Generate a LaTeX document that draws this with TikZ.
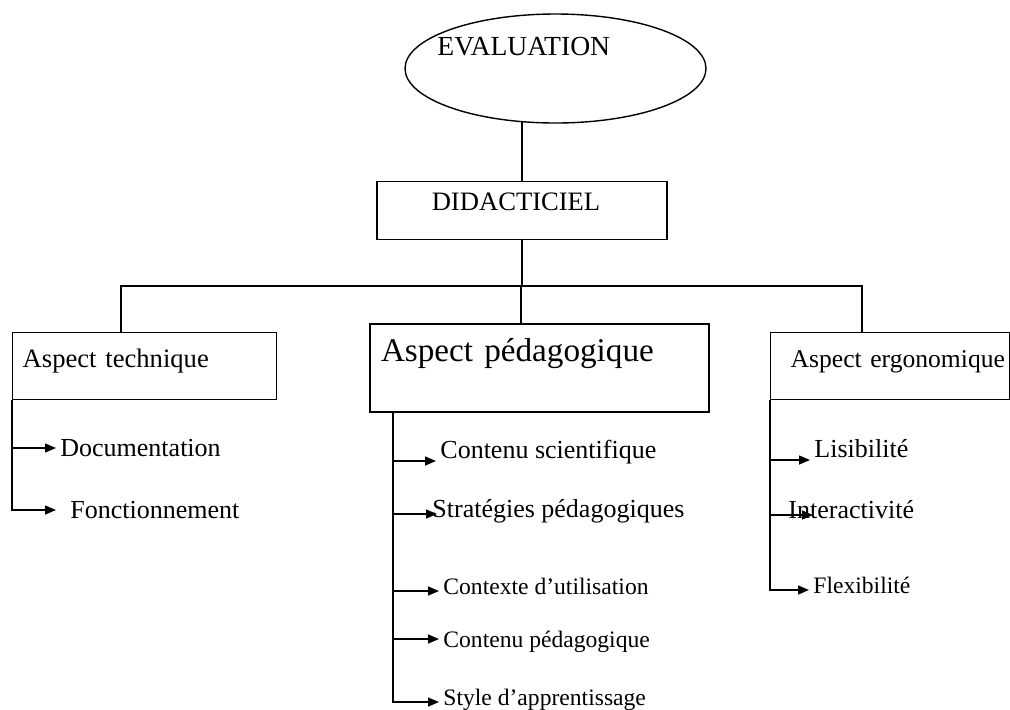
\documentclass[tikz,border=0pt]{standalone}
\usepackage{fontspec}
\setmainfont{Liberation Serif}
\usetikzlibrary{
  arrows.meta,
  shapes.geometric,
  positioning,
  calc
}

\begin{document}
\begin{tikzpicture}[x=0.5pt, y=-0.5pt,
  trait/.style={line width=0.7pt},
  fleche/.style={line width=0.7pt, -{Triangle[length=5.5pt,width=4.5pt]}},
  boite/.style={draw, line width=0.7pt, rectangle, inner ysep=0pt, anchor=north west, align=left, font=\fontsize{13.3}{16}\selectfont},
  item/.style={anchor=west, inner xsep=2pt, inner ysep=0pt, text height=7pt, text depth=3.5pt, font=\fontsize{13}{15}\selectfont},
  bas/.style={text height=9.5pt, text depth=1.5pt},
  haut/.style={text height=4.5pt, text depth=7.5pt},
  petit/.style={font=\fontsize{11.8}{14}\selectfont}]
  \useasboundingbox (0,0) rectangle (1010,709);
  % evaluation
  \node[draw, ellipse, trait, minimum width=150.5pt, minimum height=54.5pt, inner sep=0pt] (eval) at (555.5,68.5) {};
  \node[anchor=base west, inner sep=0pt, font=\fontsize{13.8}{16}\selectfont] (evaltxt) at (437,55) {EVALUATION};
  % didacticiel
  \node[boite, anchor=north, align=center, minimum width=145pt, text height=14.5pt, text depth=14.5pt] (didac) at (522,181) {\hspace*{-6pt}DIDACTICIEL};
  % les trois aspects
  \node[boite, inner xsep=5pt, text width=122pt, text height=17.5pt, text depth=16pt] (tech) at (12,332) {Aspect technique};
  \node[boite, line width=1pt, inner xsep=5.5pt, text width=158.5pt, text height=18.5pt, text depth=25.5pt, font=\fontsize{16.6}{19}\selectfont] (peda) at (369,323) {Aspect pédagogique};
  \node[boite, inner xsep=2pt, text width=115.5pt, text height=17.5pt, text depth=16pt, font=\fontsize{12.8}{15}\selectfont] (ergo) at (770,332) {\hspace*{8pt}\mbox{Aspect ergonomique}};
  % liaisons
  \coordinate (bus) at (521,286);
  \draw[trait] (didac.north) -- ([yshift=1pt]didac.north |- eval.south);
  \draw[trait] (didac.south) -- (didac.south |- bus);
  \draw[trait] ($(tech.north west)+(109,0)$) |- (bus) -| ($(ergo.north west)+(92,0)$);
  \draw[trait] (bus) -- (bus |- peda.north);
  % aspect technique
  \node[item, bas] (doc) at (56,448) {Documentation};
  \node[item, bas] (fonc) at (66,510) {Fonctionnement};
  \draw[fleche] (tech.south west |- doc.west) -- (doc.west);
  \draw[fleche, shorten >=5pt] (tech.south west) |- (fonc.west);
  % aspect pedagogique
  \coordinate (pspine) at ($(peda.south west)+(24,0)$);
  \node[item, haut] (csci) at (436,461) {Contenu scientifique};
  \node[item] (strat) at (428,514) {Stratégies pédagogiques};
  \node[item, petit] (ctx) at (439,591) {Contexte d’utilisation};
  \node[item, petit, bas] (cped) at (439,639) {Contenu pédagogique};
  \node[item, petit] (style) at (439,702) {Style d’apprentissage};
  \foreach \n in {csci, ctx, cped}
    \draw[fleche] (pspine |- \n.west) -- (\n.west);
  \draw[fleche, shorten >=-4.5pt] (pspine |- strat.west) -- (strat.west);
  \draw[fleche] (pspine) |- (style.west);
  % aspect ergonomique
  \node[item, haut] (lis) at (810,460) {Lisibilité};
  \node[item] (inter) at (784,515) {Interactivité};
  \node[item, petit] (flex) at (809,590) {Flexibilité};
  \draw[fleche] (ergo.south west |- lis.west) -- (lis.west);
  \draw[fleche, shorten >=-14.5pt] (ergo.south west |- inter.west) -- (inter.west);
  \draw[fleche] (ergo.south west) |- (flex.west);
\end{tikzpicture}
\end{document}
